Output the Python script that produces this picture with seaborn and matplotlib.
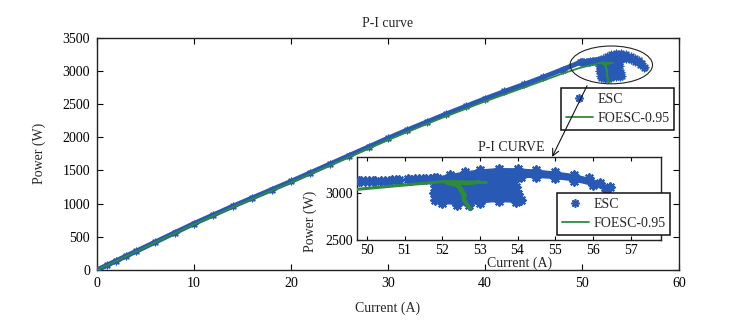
import matplotlib
matplotlib.use("Agg")
import matplotlib.pyplot as plt
from matplotlib.patches import Ellipse
from matplotlib.lines import Line2D
import seaborn as sns

# ---------------- data ----------------
# FOESC-0.95 trajectory (current A, power W)
foesc_i = [0, 5, 10, 15, 20, 25, 30, 35, 40, 45, 48, 49.73, 51.0, 52.1,
           53.17, 52.2, 53.0, 52.3, 52.45, 52.5, 52.62, 52.55, 52.68, 52.76,
           52.64, 52.52, 52.4, 52.1]
foesc_p = [0, 345, 690, 1010, 1320, 1640, 1960, 2260, 2540, 2800, 2960, 3043, 3090, 3128,
           3118, 3105, 3120, 3098, 3090, 3060, 2975, 2935, 2865, 2825,
           2900, 3000, 3080, 3112]

# ESC operating points along the rising branch
esc_band_i = [0, 1, 2, 3, 4, 6, 8, 10, 12, 14, 16, 18, 20, 22, 24, 26, 28, 30,
              32, 34, 36, 38, 40, 42, 44, 46, 48, 49.8]
esc_band_p = [0, 70, 140, 210, 280, 420, 560, 700, 830, 960, 1085, 1210, 1335, 1465, 1595, 1725, 1855, 1985,
              2110, 2230, 2350, 2465, 2580, 2690, 2795, 2905, 3020, 3128]

# scattered ESC points just before the maximum power point
esc_left_i = [49.85, 49.95, 50.05, 50.15, 50.22, 50.38, 50.48, 50.58, 50.68, 50.78, 50.85,
              51.08, 51.18, 51.28, 51.38, 51.48, 51.58, 51.68, 51.78]
esc_left_p = [3128, 3132, 3130, 3134, 3131, 3136, 3133, 3138, 3140, 3142, 3140,
              3150, 3148, 3152, 3150, 3154, 3156, 3158, 3160]

# outline of the dense ESC cloud around the maximum power point
cloud_i = [51.85, 52.2, 52.6, 53.0, 53.5, 54.0, 54.5, 55.0, 55.5, 55.9, 56.2, 56.45,
           56.35, 56.0, 55.5, 55.0, 54.5, 54.1, 53.9, 53.95, 54.0, 54.1, 53.95, 53.5,
           53.0, 52.7, 52.4, 52.0, 51.82, 51.78, 51.8, 51.8]
cloud_p = [3170, 3200, 3228, 3250, 3265, 3262, 3248, 3228, 3200, 3160, 3115, 3065,
           3040, 3085, 3135, 3160, 3172, 3172, 3130, 3070, 2990, 2930, 2905, 2915,
           2900, 2872, 2880, 2895, 2930, 3000, 3080, 3140]

# annotation geometry (data units of the main axes)
ell_center = (53.02, 3090)
ell_size = (8.5, 570)
arrow_from = (50.65, 2814)
arrow_to = (46.8, 1667)

BLUE = "#2759B5"
GREEN = "#2E8B3A"
ASTERISK = (8, 2, 0)

sns.set_style("ticks")
plt.rcParams["font.family"] = ["Liberation Serif", "DejaVu Serif"]
plt.rcParams["font.size"] = 10

fig = plt.figure(figsize=(7.35, 3.26), dpi=100)
W, H = 735, 326
ax = fig.add_axes([97 / W, 1 - 270 / H, 582 / W, (270 - 37.7) / H])
ins = fig.add_axes([356.7 / W, 1 - 240 / H, 304 / W, 83 / H])


def draw(a, lw_band, s_star, lw_star, lw_green):
    if lw_band > 0:
        sns.lineplot(x=esc_band_i, y=esc_band_p, ax=a, color=BLUE, lw=lw_band,
                     sort=False, estimator=None, legend=False)
    a.fill(cloud_i, cloud_p, color=BLUE, lw=1.0, edgecolor=BLUE, zorder=2)
    sns.scatterplot(x=esc_band_i + esc_left_i + cloud_i,
                    y=esc_band_p + esc_left_p + cloud_p,
                    ax=a, marker=ASTERISK, s=s_star, color=BLUE, edgecolor=BLUE,
                    linewidth=lw_star, legend=False, zorder=3)
    sns.lineplot(x=foesc_i, y=foesc_p, ax=a, color=GREEN, lw=lw_green,
                 sort=False, estimator=None, legend=False, zorder=4)


draw(ax, 3.6, 22, 1.0, 1.3)
draw(ins, 0.0, 36, 1.6, 2.2)

for a in (ax, ins):
    a.tick_params(direction="in", top=True, right=True, length=4, width=0.8,
                  labelsize=10, colors="black")
    for sp in a.spines.values():
        sp.set_visible(True)
        sp.set_linewidth(1.0)
        sp.set_color("#222222")

ax.set_xlim(0, 60)
ax.set_ylim(0, 3500)
ax.set_xticks(range(0, 61, 10))
ax.set_yticks(range(0, 3501, 500))
ax.tick_params(pad=5)
ax.set_xlabel("Current (A)", fontsize=10, labelpad=8)
ax.set_ylabel("Power (W)", fontsize=10, labelpad=12)
ax.set_title("P-I curve", fontsize=10, pad=8)

ins.set_xlim(49.73, 57.8)
ins.set_ylim(2500, 3390)
ins.set_xticks(range(50, 58))
ins.set_yticks([2500, 3000])
ins.tick_params(pad=3, length=3)
ins.set_xlabel("Current (A)", fontsize=10)
ins.xaxis.set_label_coords(0.537, -0.20)
ins.set_ylabel("Power (W)", fontsize=10)
ins.yaxis.set_label_coords(-0.13, 0.22)
ins.set_title("P-I CURVE", fontsize=10, pad=4, x=0.51)

ax.add_patch(Ellipse(ell_center, ell_size[0], ell_size[1], fill=False,
                     edgecolor="#222222", lw=0.8, zorder=6))

handles = [Line2D([], [], marker=ASTERISK, color=BLUE, ls="none", markersize=6,
                  markeredgewidth=1.2),
           Line2D([], [], color=GREEN, lw=1.3)]
labels = ["ESC", "FOESC-0.95"]
leg_kw = dict(loc="upper left", frameon=True, fancybox=False, framealpha=1,
              edgecolor="#111111", fontsize=10, handlelength=1.95, handletextpad=0.3,
              borderpad=0.35, labelspacing=0.45, borderaxespad=0)
l1 = ax.legend(handles, labels, bbox_to_anchor=(561 / W, 1 - 88 / H),
               bbox_transform=fig.transFigure, **leg_kw)
l1.get_frame().set_linewidth(1.1)
l2 = ins.legend(handles, labels, bbox_to_anchor=(557 / W, 1 - 193 / H),
                bbox_transform=fig.transFigure, **leg_kw)
l2.get_frame().set_linewidth(1.1)

ax.annotate("", xy=arrow_to, xytext=arrow_from, xycoords="data",
            arrowprops=dict(arrowstyle="->", color="#111111", lw=0.8,
                            mutation_scale=12), zorder=7, annotation_clip=False)

fig.savefig("out.png", dpi=100)
